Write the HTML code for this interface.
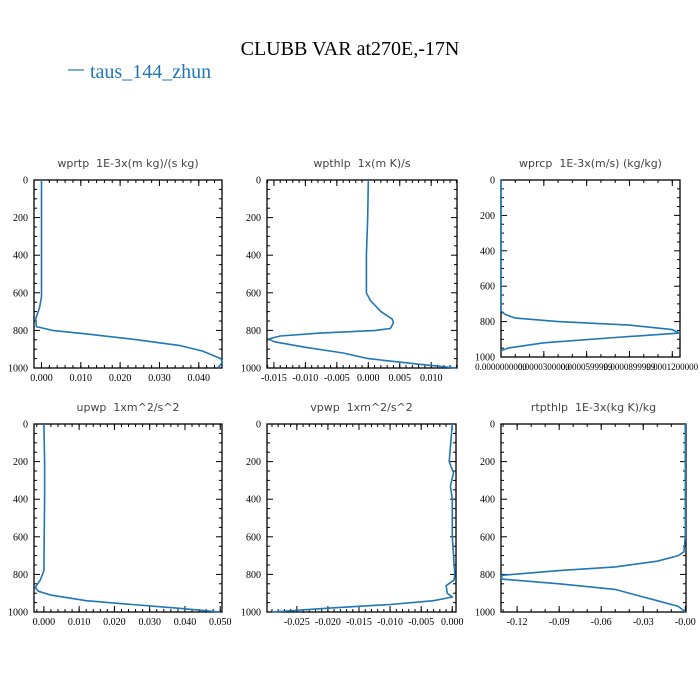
<!DOCTYPE html>
<html><head><meta charset="utf-8"><style>body{margin:0;background:#fff}svg{display:block}text{white-space:pre}</style></head>
<body>
<svg id="c" width="700" height="700" xmlns="http://www.w3.org/2000/svg">
<text x="350" y="55" text-anchor="middle" font-family="Liberation Serif, serif" font-size="20">CLUBB VAR at270E,-17N</text>
<g><line x1="68" y1="70" x2="84" y2="70" stroke="#1f77b4" stroke-width="1.2"/><text x="90" y="78" font-family="Liberation Serif, serif" font-size="20" fill="#1f77b4">taus_144_zhun</text></g>
</svg>
<script>
const levels1=[0,200,400,600,620,680,740,780,800,820,850,880,910,950,970,1000];
const wprtp=[0,0,0,0,0,-0.0005,-0.0015,-0.0013,0.0028,0.012,0.0244,0.035,0.041,0.0456,0.046,0.0448];
const levels2=[0,200,400,600,640,700,740,760,790,800,815,830,845,860,890,920,950,980,1000];
const wpthlp=[0,-0.0001,-0.0003,-0.0003,0.0003,0.002,0.0038,0.004,0.0035,0.0012,-0.008,-0.014,-0.0158,-0.015,-0.010,-0.004,0,0.008,0.014];
const levels3=[0,600,740,760,780,800,820,845,865,890,920,950,965];
const wprcp=[0,0,0,0.000003,0.00001,0.00004,0.00009,0.00012,0.000125,0.00008,0.00003,0.000005,0];
const levels4=[0,200,400,600,780,830,870,890,910,940,960,980,1000];
const upwp=[0,0.0002,0.0002,0.0001,0,-0.001,-0.0025,-0.0015,0.002,0.012,0.025,0.038,0.050];
const levels5=[0,200,260,330,400,600,800,830,860,900,920,940,960,980,1000];
const vpwp=[0,-0.0005,0.0002,-0.0003,0,0,0.0004,0.0003,-0.001,-0.0008,0,-0.003,-0.010,-0.020,-0.029];
const levels6=[0,600,680,700,730,760,780,805,825,850,880,910,940,970,1000];
const rtpthlp=[0,0,-0.001,-0.005,-0.02,-0.05,-0.09,-0.131,-0.131,-0.09,-0.05,-0.035,-0.02,-0.005,0];
const xticks1=["0.000","0.010","0.020","0.030","0.040"],xv1=[0,0.01,0.02,0.03,0.04];
const xticks2=["-0.015","-0.010","-0.005","0.000","0.005","0.010"],xv2=[-0.015,-0.01,-0.005,0,0.005,0.01];
const xticks3=["0.0000000000","0.0000300000","0.0000599999","0.0000899999","0.0001200000"],xv3=[0,0.00003,0.00006,0.00009,0.00012];
const xticks4=["0.000","0.010","0.020","0.030","0.040","0.050"],xv4=[0,0.01,0.02,0.03,0.04,0.05];
const xticks5=["-0.025","-0.020","-0.015","-0.010","-0.005","0.000"],xv5=[-0.025,-0.02,-0.015,-0.01,-0.005,0];
const xticks6=["-0.12","-0.09","-0.06","-0.03","-0.00"],xv6=[-0.12,-0.09,-0.06,-0.03,0];
const yticks=[0,200,400,600,800,1000];
const NS="http://www.w3.org/2000/svg",svg=document.getElementById('c');
function mk(t,a,p){const e=document.createElementNS(NS,t);for(const k in a)e.setAttribute(k,a[k]);(p||svg).appendChild(e);return e;}
const panels=[
 {n:"wprtp",t:"wprtp  1E-3x(m kg)/(s kg)",x0:34,x1:222,y0:180,y1:368,xmin:-0.0019,xmax:0.0459,lv:levels1,v:wprtp,xt:xticks1,xv:xv1,minor:0.002},
 {n:"wpthlp",t:"wpthlp  1x(m K)/s",x0:267,x1:457,y0:180,y1:368,xmin:-0.0161,xmax:0.0141,lv:levels2,v:wpthlp,xt:xticks2,xv:xv2,minor:0.001},
 {n:"wprcp",t:"wprcp  1E-3x(m/s) (kg/kg)",x0:501,x1:680,y0:180,y1:357,xmin:0,xmax:0.0001254,lv:levels3,v:wprcp,xt:xticks3,xv:xv3,minor:0.00001,small:true},
 {n:"upwp",t:"upwp  1xm^2/s^2",x0:34,x1:222,y0:424,y1:612,xmin:-0.0028,xmax:0.0505,lv:levels4,v:upwp,xt:xticks4,xv:xv4,minor:0.002},
 {n:"vpwp",t:"vpwp  1xm^2/s^2",x0:267,x1:456,y0:424,y1:612,xmin:-0.0298,xmax:0.0006,lv:levels5,v:vpwp,xt:xticks5,xv:xv5,minor:0.001},
 {n:"rtpthlp",t:"rtpthlp  1E-3x(kg K)/kg",x0:501,x1:686,y0:424,y1:612,xmin:-0.1315,xmax:0.0005,lv:levels6,v:rtpthlp,xt:xticks6,xv:xv6,minor:0.01}];
panels.forEach(P=>{
 const g=mk('g',{});
 
 
 const X=v=>P.x0+(v-P.xmin)/(P.xmax-P.xmin)*(P.x1-P.x0);
 const Y=p=>P.y0+p/1000*(P.y1-P.y0);
 const tt=mk('text',{x:(P.x0+P.x1)/2,y:P.y0-13,'text-anchor':'middle','font-family':'DejaVu Sans, sans-serif','font-size':11,fill:'#444','xml:space':'preserve'},g);
 tt.textContent=P.t;
 
 
 for(let p=0;p<=1000;p+=50){const L=p%200==0?6:3;
  mk('line',{x1:P.x0,y1:Y(p),x2:P.x0+L,y2:Y(p),stroke:'#000','stroke-width':1},g);
  mk('line',{x1:P.x1,y1:Y(p),x2:P.x1-L,y2:Y(p),stroke:'#000','stroke-width':1},g);}
 yticks.forEach(p=>{const t=mk('text',{x:P.x0-6,y:Y(p)+3.5,'text-anchor':'end','font-family':'Liberation Serif, serif','font-size':10},g);t.textContent=p;
  
  });
 const s=Math.ceil(P.xmin/P.minor);
 for(let i=s;i*P.minor<=P.xmax+1e-12;i++){const x=X(i*P.minor);
  mk('line',{x1:x,y1:P.y1,x2:x,y2:P.y1-3,stroke:'#000','stroke-width':1},g);
  mk('line',{x1:x,y1:P.y0,x2:x,y2:P.y0+3,stroke:'#000','stroke-width':1},g);}
 P.xv.forEach((v,i)=>{const x=X(v);
  mk('line',{x1:x,y1:P.y1,x2:x,y2:P.y1-6,stroke:'#000','stroke-width':1},g);
  mk('line',{x1:x,y1:P.y0,x2:x,y2:P.y0+6,stroke:'#000','stroke-width':1},g);
  const t=mk('text',{x:x,y:P.y1+13,'text-anchor':'middle','font-family':'Liberation Serif, serif','font-size':P.small?9:10},g);t.textContent=P.xt[i];
  
  });
 const fr=mk('rect',{x:P.x0,y:P.y0,width:P.x1-P.x0,height:P.y1-P.y0,fill:'none',stroke:'#000','stroke-width':1.3},g);
 
 
 const d=P.v.map((v,i)=>(i?'L':'M')+X(v).toFixed(1)+','+Y(P.lv[i]).toFixed(1)).join('');
 const ln=mk('path',{d:d,fill:'none',stroke:'#1f77b4','stroke-width':1.6,'stroke-linejoin':'round'},g);
 
 
});
</script>
</body></html>
